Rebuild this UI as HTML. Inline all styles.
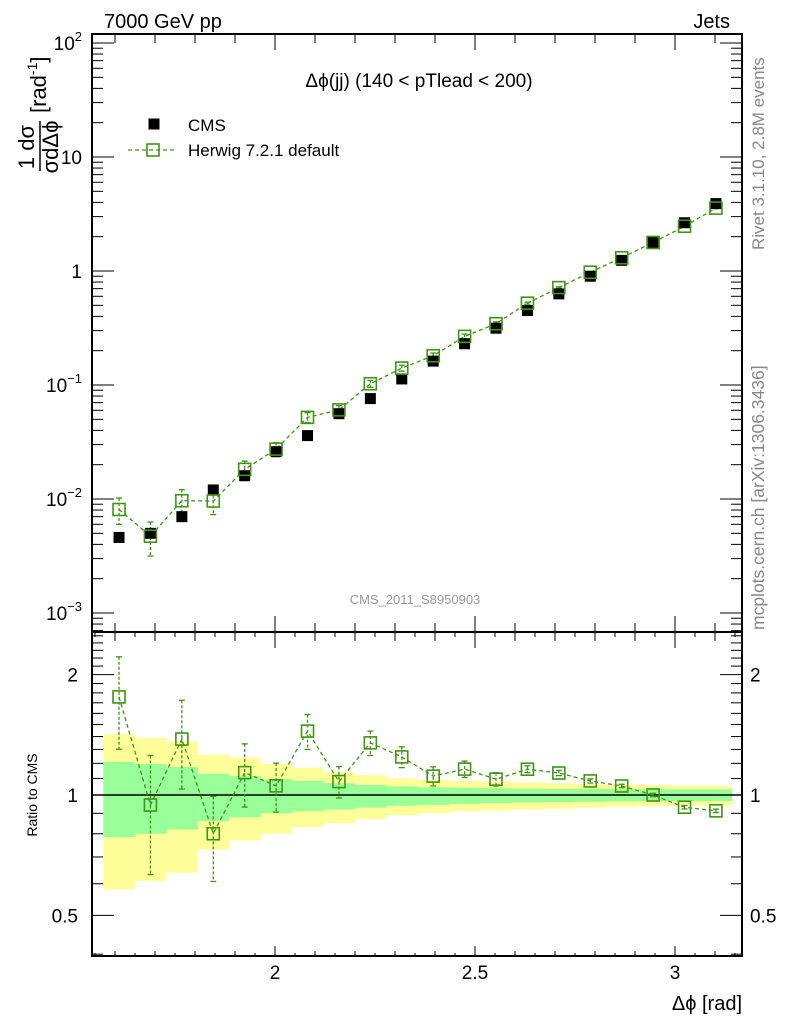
<!DOCTYPE html>
<html><head><meta charset="utf-8"><style>
html,body{margin:0;padding:0;background:#fff;}
svg{display:block;font-family:"Liberation Sans",sans-serif;}
</style></head><body>
<svg id="chart" width="786" height="1024" viewBox="0 0 786 1024"></svg>
<script>
const binLow = [1.5708,1.6493,1.7279,1.8064,1.885,1.9635,2.042,2.1206,2.1991,2.2777,2.3562,2.4347,2.5133,2.5918,2.6704,2.7489,2.8274,2.906,2.9845,3.0631];
const binHigh = [1.6493,1.7279,1.8064,1.885,1.9635,2.042,2.1206,2.1991,2.2777,2.3562,2.4347,2.5133,2.5918,2.6704,2.7489,2.8274,2.906,2.9845,3.0631,3.1416];
const cmsValues = [4.6e-3,5.0e-3,7.0e-3,1.2e-2,1.6e-2,2.6e-2,3.6e-2,5.6e-2,7.6e-2,0.113,0.162,0.23,0.315,0.45,0.63,0.9,1.24,1.78,2.65,3.9];
const herwigValues = [8.09e-3,4.72e-3,9.66e-3,9.6e-3,1.82e-2,2.74e-2,5.2e-2,6.05e-2,0.1026,0.1407,0.1806,0.267,0.345,0.522,0.715,0.976,1.306,1.78,2.47,3.56];
const herwigRelErr = [0.26,0.33,0.25,0.24,0.18,0.14,0.1,0.09,0.07,0.06,0.055,0.047,0.038,0.02,0.015,0.012,0.01,0.01,0.01,0.01];
const yellowUp = [1.42,1.39,1.36,1.26,1.24,1.195,1.17,1.14,1.12,1.10,1.09,1.085,1.08,1.075,1.07,1.065,1.06,1.06,1.055,1.055];
const yellowDown = [0.58,0.61,0.64,0.73,0.77,0.80,0.83,0.85,0.87,0.89,0.90,0.91,0.915,0.92,0.925,0.93,0.935,0.94,0.94,0.94];
const greenUp = [1.21,1.195,1.175,1.13,1.115,1.095,1.085,1.07,1.06,1.05,1.045,1.042,1.04,1.038,1.036,1.035,1.034,1.033,1.033,1.033];
const greenDown = [0.785,0.80,0.82,0.86,0.88,0.90,0.91,0.92,0.93,0.94,0.945,0.95,0.955,0.958,0.96,0.962,0.964,0.966,0.966,0.966];
const xTickLabels = ["2","2.5","3"];
const xTickValues = [2,2.5,3];
const mainTickValues = [-3,-2,-1,0,1,2];
const ratioTickValues = [0.5,1,2];

const NS="http://www.w3.org/2000/svg";
const svg=document.getElementById('chart');
const L=92,R=742,T=34,M=632,B=956;
const X=v=>275+(v-2)*400;
const Ym=v=>271-Math.log10(v)*114;
const Yr=v=>795-Math.log10(v)*400;
const G='#3f9414';
function mk(tag,attrs,parent){const e=document.createElementNS(NS,tag);for(const k in attrs)e.setAttribute(k,attrs[k]);(parent||svg).appendChild(e);return e;}
function txt(s,attrs,parent){const e=mk('text',attrs,parent);e.textContent=s;return e;}

const defs=mk('defs',{});
const c1=mk('clipPath',{id:'cm'},defs);mk('rect',{x:L,y:T,width:R-L,height:M-T},c1);
const c2=mk('clipPath',{id:'cr'},defs);mk('rect',{x:L,y:M,width:R-L,height:B-M},c2);

const bands=mk('g',{'clip-path':'url(#cr)'});


for(let i=0;i<binLow.length;i++){
  const y=mk('rect',{x:X(binLow[i]),y:Yr(yellowUp[i]),width:X(binHigh[i])-X(binLow[i])+0.5,height:Yr(yellowDown[i])-Yr(yellowUp[i]),fill:'#ffff99'},bands);
  
  
}
for(let i=0;i<binLow.length;i++){
  const g=mk('rect',{x:X(binLow[i]),y:Yr(greenUp[i]),width:X(binHigh[i])-X(binLow[i])+0.5,height:Yr(greenDown[i])-Yr(greenUp[i]),fill:'#99ff99'},bands);
  
  
}
const one=mk('line',{x1:L,x2:R,y1:Yr(1),y2:Yr(1),stroke:'#000','stroke-width':1.5});



const f1=mk('rect',{x:L,y:T,width:R-L,height:M-T,fill:'none',stroke:'#000','stroke-width':2});


const f2=mk('rect',{x:L,y:M,width:R-L,height:B-M,fill:'none',stroke:'#000','stroke-width':2});



const tk=mk('g',{stroke:'#000','stroke-width':1});


for(let k=31;k<=63;k++){const v=k/20;const x=X(v);if(x<L||x>R)continue;
  const major=(k%10===0), mid=(k%2===0);
  const len=major?16:(mid?9:5);
  if(mid){mk('line',{x1:x,x2:x,y1:T,y2:T+len},tk);mk('line',{x1:x,x2:x,y1:M,y2:M-len},tk);}
  mk('line',{x1:x,x2:x,y1:M,y2:M+(mid?len:5)},tk);
  mk('line',{x1:x,x2:x,y1:B,y2:B-(major?10:(mid?5:3))},tk);
}
xTickValues.forEach((v,i)=>{const t=txt(xTickLabels[i],{x:X(v),y:979,'font-size':19,'text-anchor':'middle'});
  
  });
for(let d=-4;d<=2;d++){for(let m=1;m<=9;m++){const v=m*Math.pow(10,d);const y=Ym(v);if(y<T||y>M)continue;
  const len=m===1?22:11;mk('line',{x1:L,x2:L+len,y1:y,y2:y},tk);mk('line',{x1:R,x2:R-len,y1:y,y2:y},tk);}}
const mainLab={"-3":"10","-2":"10","-1":"10","0":"1","1":"10","2":"10"};
const mainExp={"-3":"−3","-2":"−2","-1":"−1","2":"2"};
mainTickValues.forEach(d=>{const y=Ym(Math.pow(10,d))+7;
  const t=mk('text',{x:82,y:y,'font-size':19,'text-anchor':'end'});
  
  
  if(mainExp[d]!==undefined){const a=mk('tspan',{},t);a.textContent='10';const b=mk('tspan',{'font-size':13,dy:-9},t);b.textContent=mainExp[d];}
  else t.textContent=mainLab[d];
});
for(let k=4;k<=25;k++){const v=k/10;const y=Yr(v);if(y<M||y>B)continue;const major=(k===5||k===10||k===20);
  const len=major?22:11;mk('line',{x1:L,x2:L+len,y1:y,y2:y},tk);mk('line',{x1:R,x2:R-len,y1:y,y2:y},tk);}
ratioTickValues.forEach(v=>{
  const a=txt(String(v),{x:78,y:Yr(v)+7,'font-size':19,'text-anchor':'end'});
  
  
  const b=txt(String(v),{x:750,y:Yr(v)+7,'font-size':19});
  
  
});

const mg=mk('g',{'clip-path':'url(#cm)'});


const cen=i=>(binLow[i]+binHigh[i])/2;
mk('polyline',{points:herwigValues.map((v,i)=>X(cen(i))+','+Ym(v)).join(' '),fill:'none',stroke:G,'stroke-width':1.3,'stroke-dasharray':'4,3'},mg);
herwigValues.forEach((v,i)=>{const x=X(cen(i));
  const e1=Ym(v*(1+herwigRelErr[i])),e2=Ym(v*(1-herwigRelErr[i]));
  mk('line',{x1:x,x2:x,y1:e1,y2:e2,stroke:G,'stroke-width':1.3,'stroke-dasharray':'3,2'},mg);
  mk('line',{x1:x-3,x2:x+3,y1:e1,y2:e1,stroke:G,'stroke-width':1.3},mg);
  mk('line',{x1:x-3,x2:x+3,y1:e2,y2:e2,stroke:G,'stroke-width':1.3},mg);
});
cmsValues.forEach((v,i)=>{const r=mk('rect',{x:X(cen(i))-5.5,y:Ym(v)-5.5,width:11,height:11,fill:'#000'},mg);
  
  });
herwigValues.forEach((v,i)=>{const r=mk('rect',{x:X(cen(i))-6,y:Ym(v)-6,width:12,height:12,fill:'none',stroke:G,'stroke-width':1.6},mg);
  
  });

const rg=mk('g',{'clip-path':'url(#cr)'});


const ratio=herwigValues.map((v,i)=>v/cmsValues[i]);
mk('polyline',{points:ratio.map((v,i)=>X(cen(i))+','+Yr(v)).join(' '),fill:'none',stroke:G,'stroke-width':1.3,'stroke-dasharray':'4,3'},rg);
ratio.forEach((v,i)=>{const x=X(cen(i));
  const e1=Yr(v*(1+herwigRelErr[i])),e2=Yr(v*(1-herwigRelErr[i]));
  mk('line',{x1:x,x2:x,y1:e1,y2:e2,stroke:G,'stroke-width':1.3,'stroke-dasharray':'3,2'},rg);
  mk('line',{x1:x-3,x2:x+3,y1:e1,y2:e1,stroke:G,'stroke-width':1.3},rg);
  mk('line',{x1:x-3,x2:x+3,y1:e2,y2:e2,stroke:G,'stroke-width':1.3},rg);
  const r=mk('rect',{x:x-6,y:Yr(v)-6,width:12,height:12,fill:'none',stroke:G,'stroke-width':1.6},rg);
  
  
});
</script>
<svg width="786" height="1024" style="position:absolute;left:0;top:0;font-family:'Liberation Sans',sans-serif">
<text x="104" y="28" font-size="20">7000 GeV pp</text>
<text x="730" y="28" font-size="20" text-anchor="end">Jets</text>
<text x="419" y="87" font-size="19" text-anchor="middle">Δϕ(jj) (140 &lt; pTlead &lt;  200)</text>
<rect x="148.5" y="118.5" width="11" height="11" fill="#000"/>
<text x="188" y="131" font-size="17">CMS</text>
<line x1="128" x2="175" y1="150" y2="150" stroke="#3f9414" stroke-width="1.3" stroke-dasharray="4,3"/>
<rect x="147" y="144" width="12" height="12" fill="none" stroke="#3f9414" stroke-width="1.6"/>
<text x="188" y="156" font-size="17">Herwig 7.2.1 default</text>
<text x="415" y="604" font-size="13" fill="#999" text-anchor="middle">CMS_2011_S8950903</text>
<text transform="translate(764,250) rotate(-90)" font-size="17" fill="#888">Rivet 3.1.10,  2.8M events</text>
<text transform="translate(764,630) rotate(-90)" font-size="17.5" fill="#888">mcplots.cern.ch [arXiv:1306.3436]</text>
<g transform="translate(40,135) rotate(-90)">
<text x="-12" y="-6" font-size="22" text-anchor="middle">1 dσ</text>
<line x1="-36" x2="14" y1="0" y2="0" stroke="#000" stroke-width="1.5"/>
<text x="-12" y="18" font-size="22" text-anchor="middle">σdΔϕ</text>
<text x="22" y="6" font-size="22">[rad<tspan font-size="14" dy="-9">-1</tspan><tspan dy="9">]</tspan></text>
</g>
<text transform="translate(37,795) rotate(-90)" font-size="14" text-anchor="middle">Ratio to CMS</text>
<text x="742" y="1010" font-size="20" text-anchor="end">Δϕ [rad]</text>
</svg>
</body></html>
